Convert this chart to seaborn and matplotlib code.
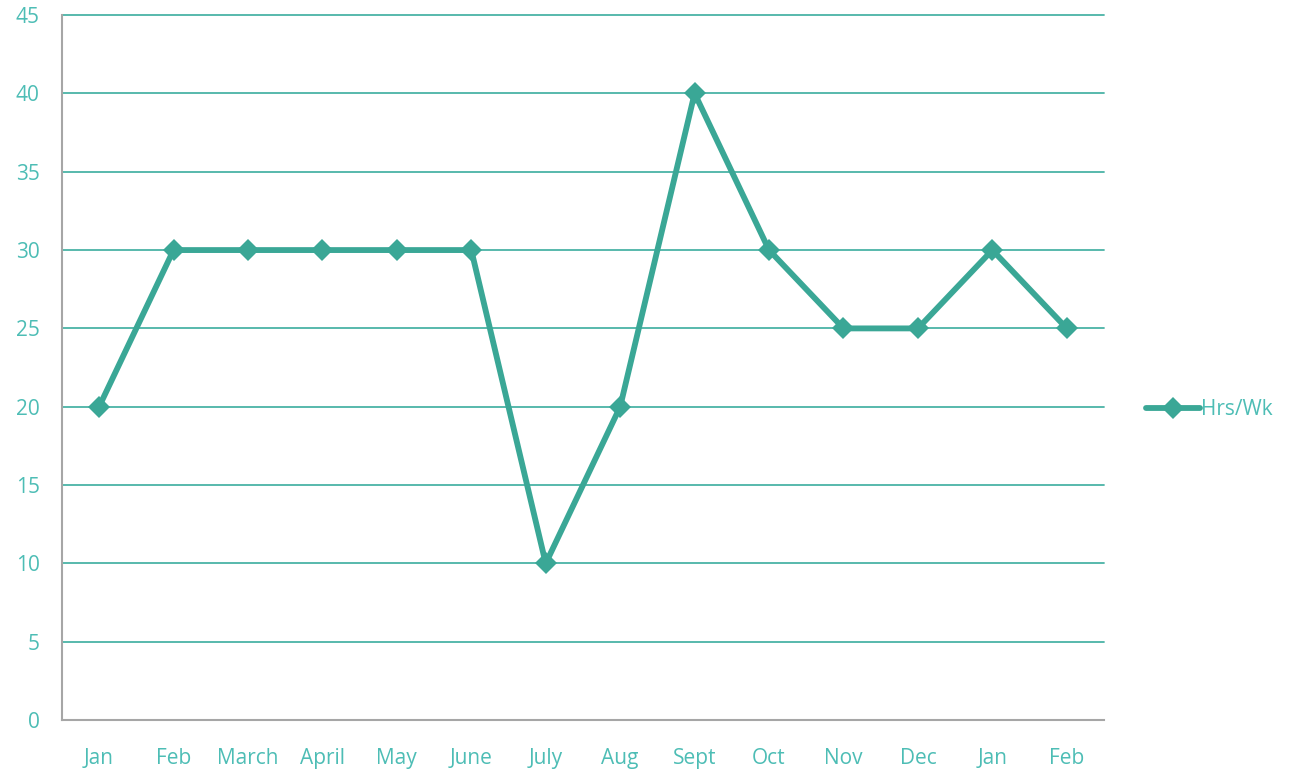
import seaborn as sns
import matplotlib.pyplot as plt
import pandas as pd

# data
months = ['Jan', 'Feb', 'March', 'April', 'May', 'June', 'July', 'Aug',
          'Sept', 'Oct', 'Nov', 'Dec', 'Jan', 'Feb']
hrs_wk = [20, 30, 30, 30, 30, 30, 10, 20, 40, 30, 25, 25, 30, 25]
yticks = [0, 5, 10, 15, 20, 25, 30, 35, 40, 45]

df = pd.DataFrame({'pos': range(len(months)), 'Hrs/Wk': hrs_wk})

sns.set_style('white')
plt.rcParams['font.family'] = ['Open Sans', 'DejaVu Sans']

line_col = '#3aa796'
text_col = '#4dbdb5'
grid_col = '#4ab3a6'

fig = plt.figure(figsize=(12.89, 7.71), dpi=100)
ax = fig.add_axes([0.048, 0.066, 0.8085, 0.9145])

sns.lineplot(data=df, x='pos', y='Hrs/Wk', ax=ax, color=line_col, linewidth=4.2,
             marker='D', markersize=11, markeredgewidth=0, label='Hrs/Wk', zorder=3)

ax.set_xlim(-0.5, len(months) - 0.5)
ax.set_ylim(0, 45)
ax.set_xticks(range(len(months)))
ax.set_xticklabels(months)
ax.set_yticks(yticks)
ax.set_xlabel('')
ax.set_ylabel('')
ax.yaxis.grid(True, color=grid_col, linewidth=1.3)
for gl in ax.yaxis.get_gridlines():
    gl.set_clip_on(False)
ax.set_axisbelow(True)
for s in ['top', 'right']:
    ax.spines[s].set_visible(False)
for s in ['left', 'bottom']:
    ax.spines[s].set_color('#a6a6a6')
    ax.spines[s].set_linewidth(1.5)
    ax.spines[s].set_zorder(2.5)
ax.tick_params(axis='both', length=0, labelsize=15, labelcolor=text_col)
ax.tick_params(axis='x', pad=20)
ax.tick_params(axis='y', pad=16)

leg = ax.legend(loc='center left', bbox_to_anchor=(1.022, 0.44), frameon=False,
                fontsize=15, handlelength=2.6, handletextpad=0.05)
for t in leg.get_texts():
    t.set_color(text_col)

plt.savefig('out.png', dpi=100)
